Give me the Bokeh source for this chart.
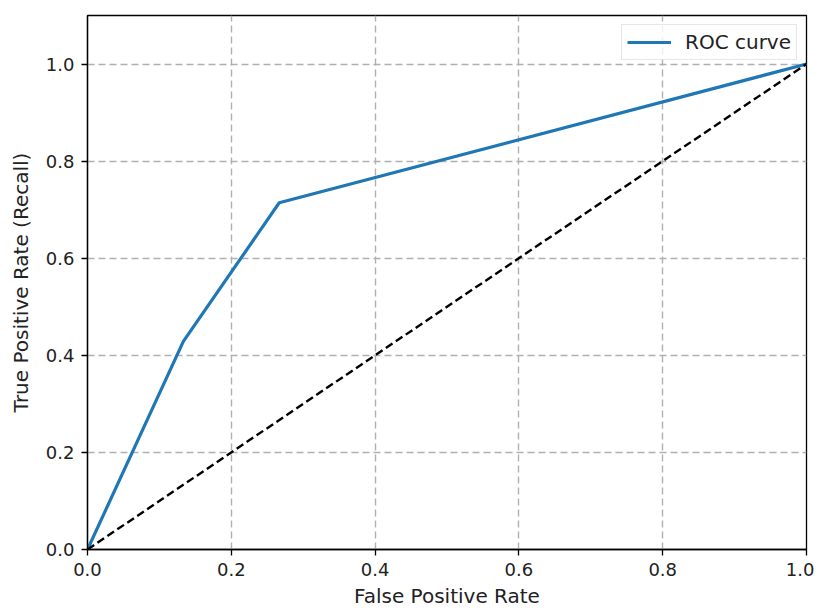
from bokeh.plotting import figure
from bokeh.models import Range1d, FixedTicker, Legend, LegendItem, CustomJSTickFormatter
from bokeh.embed import file_html
from bokeh.resources import INLINE

fpr = [0.0, 2/15, 4/15, 1.0]
tpr = [0.0, 3/7, 5/7, 1.0]
diag_x = [0.0, 1.0]
diag_y = [0.0, 1.0]
ticks = [0.0, 0.2, 0.4, 0.6, 0.8, 1.0]

FONT = "DejaVu Sans"

p = figure(width=814, height=610, output_backend="svg", toolbar_location=None,
           x_range=Range1d(0, 1), y_range=Range1d(0, 1.1),
           min_border_left=87, min_border_right=8, min_border_top=15, min_border_bottom=40)
p.background_fill_color = "white"
p.border_fill_color = "white"
p.outline_line_color = "black"
p.outline_line_width = 1.3

roc = p.line(fpr, tpr, line_color="#1f77b4", line_width=3.2)
p.line(diag_x, diag_y, line_color="black", line_width=2.4, line_dash="8 4")

for ax in (p.xaxis[0], p.yaxis[0]):
    ax.ticker = FixedTicker(ticks=ticks)
    ax.minor_tick_line_color = None
    ax.major_tick_out = 6
    ax.major_tick_in = 0
    ax.axis_line_color = "black"
    ax.axis_line_width = 1.3
    ax.major_tick_line_color = "black"
    ax.major_tick_line_width = 1.3
    ax.major_label_text_font = FONT
    ax.major_label_text_font_size = "18px"
    ax.major_label_text_color = "#222222"
    ax.major_label_standoff = 7
    ax.axis_label_text_font = FONT
    ax.axis_label_text_font_size = "20px"
    ax.axis_label_text_font_style = "normal"
    ax.axis_label_text_color = "#222222"

fmt = CustomJSTickFormatter(code="return tick.toFixed(1);")
p.xaxis[0].formatter = fmt
p.yaxis[0].formatter = fmt
p.xaxis.axis_label = "False Positive Rate"
p.yaxis.axis_label = "True Positive Rate (Recall)"
p.xaxis.axis_label_standoff = 5
p.yaxis.axis_label_standoff = 10

for g in (p.xgrid[0], p.ygrid[0]):
    g.grid_line_color = "#b0b0b0"
    g.grid_line_dash = "7 4"
    g.grid_line_width = 1.4

legend = Legend(items=[LegendItem(label="ROC curve", renderers=[roc])],
                location="top_right")
legend.label_text_font = FONT
legend.label_text_font_size = "20px"
legend.label_text_color = "#222222"
legend.border_line_color = "#d0d0d0"
legend.border_line_width = 1
legend.background_fill_alpha = 0.8
legend.margin = 9
legend.padding = 5
legend.glyph_width = 44
legend.label_standoff = 14
legend.spacing = 0
p.add_layout(legend)

open("out.html", "w").write(file_html(p, INLINE))
